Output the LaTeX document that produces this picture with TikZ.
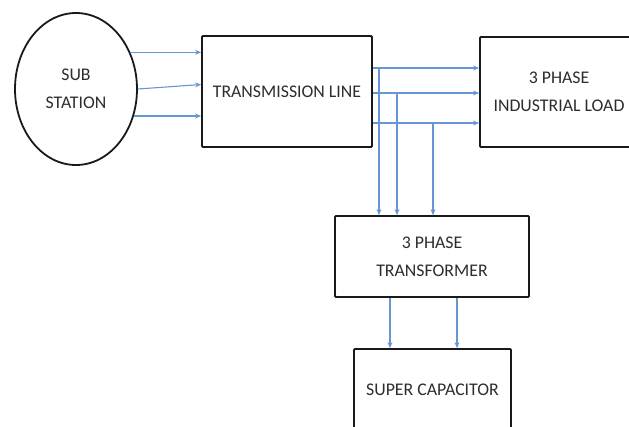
\documentclass[tikz,border=0pt]{standalone}
\usepackage{fontspec}
\setmainfont{Carlito}
\usetikzlibrary{arrows.meta,shapes.geometric}
\definecolor{wire}{RGB}{104,150,212}
\definecolor{txt}{RGB}{45,45,45}
\tikzset{
  blk/.style={draw=black!90, line width=1.8pt, rounded corners=1pt, fill=white,
    text=txt, align=center, font=\fontsize{17.8}{28}\selectfont, inner sep=0pt},
  wirearrow/.style={draw=wire, line width=1.1pt, -{Stealth[length=6pt,width=5pt]}},
}
\begin{document}
\begin{tikzpicture}[x=1pt,y=-1pt]
\useasboundingbox (0,0) rectangle (629,426);
\clip (0,0) rectangle (629,426);
\node[blk, ellipse, minimum width=122pt, minimum height=152pt] (ss) at (76,89) {SUB\\STATION};
\node[blk, minimum width=170pt, minimum height=111pt] (tl) at (287,91.5) {TRANSMISSION LINE};
\node[blk, minimum width=158pt, minimum height=110pt] (ld) at (559,92) {3 PHASE\\INDUSTRIAL LOAD};
\node[blk, minimum width=194pt, minimum height=81pt] (tf) at (432,256.5) {3 PHASE\\TRANSFORMER};
\node[blk, minimum width=157pt, minimum height=82pt] (sc) at (432.5,390) {SUPER CAPACITOR};
% substation to transmission line
\draw[wirearrow] (ss.34) -- (ss.34 -| tl.west);
\draw[wirearrow] (ss.east) -- ([yshift=7pt]tl.west);
\draw[wirearrow] (ss.-25) -- (ss.-25 -| tl.west);
% transmission line to load
\coordinate (j1) at (379,68);
\coordinate (j2) at (397,93);
\coordinate (j3) at (433,123);
\draw[wirearrow] (j1 -| tl.east) -- (j1 -| ld.west);
\draw[wirearrow] (j2 -| tl.east) -- (j2 -| ld.west);
\draw[wirearrow] (j3 -| tl.east) -- (j3 -| ld.west);
% taps down to transformer
\draw[wirearrow] (j1) -- (j1 |- tf.north);
\draw[wirearrow] (j2) -- (j2 |- tf.north);
\draw[wirearrow] (j3) -- (j3 |- tf.north);
% transformer to super capacitor
\draw[wirearrow] ([xshift=-42pt]tf.south) -- ([xshift=-42pt]tf.south |- sc.north);
\draw[wirearrow] ([xshift=25pt]tf.south) -- ([xshift=25pt]tf.south |- sc.north);
\end{tikzpicture}
\end{document}
